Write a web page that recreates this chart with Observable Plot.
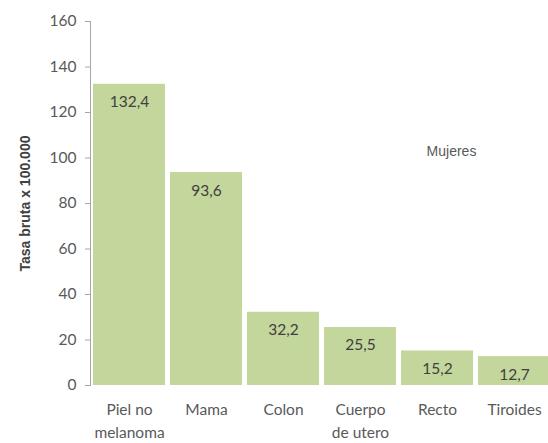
<!DOCTYPE html>
<html>
<head>
<meta charset="utf-8">
<script src="https://cdn.jsdelivr.net/npm/d3@7"></script>
<script src="https://cdn.jsdelivr.net/npm/@observablehq/plot@0.6"></script>
<style>
  html, body { margin: 0; padding: 0; background: #fff; }
  #chart svg { display: block; }
</style>
</head>
<body>
<div id="chart"></div>
<script>
const categories = ["Piel no\nmelanoma", "Mama", "Colon", "Cuerpo\nde utero", "Recto", "Tiroides"];
const values = [132.4, 93.6, 32.2, 25.5, 15.2, 12.7];
const valueLabels = ["132,4", "93,6", "32,2", "25,5", "15,2", "12,7"];
const yTicks = [0, 20, 40, 60, 80, 100, 120, 140, 160];
const yTitle = "Tasa bruta x 100.000";
const seriesName = "Mujeres";

const data = categories.map((c, i) => ({cat: c, value: values[i], label: valueLabels[i]}));

const font = "Lato, 'Open Sans', sans-serif";

const chart = Plot.plot({
  width: 548,
  height: 443,
  marginLeft: 90,
  marginRight: -4,
  marginTop: 21,
  marginBottom: 58,
  style: {fontFamily: font, background: "#fff"},
  x: {domain: categories, paddingInner: 0.065, paddingOuter: 0.0325, label: null},
  y: {domain: [0, 160], label: null},
  marks: [
    Plot.barY(data, {x: "cat", y: "value", fill: "#C3D69B"}),
    Plot.text(data, {x: "cat", y: "value", text: "label", dy: 18, fill: "#404040", fontSize: 15.5, fontFamily: font}),
    Plot.axisY({ticks: yTicks, tickSize: 5, tickPadding: 9, stroke: "#A6A6A6", fill: "#595959", fontSize: 15.5, label: null, tickFormat: d => d}),
    Plot.frame({anchor: "left", stroke: "#A6A6A6"}),
    Plot.axisX({tickSize: 0, tickPadding: 13, fill: "#595959", fontSize: 15.5, label: null, lineHeight: 1.5}),
    Plot.text([yTitle], {frameAnchor: "left", textAnchor: "middle", rotate: -90, dx: -65, fontWeight: "bold", fontSize: 14, fill: "#404040", fontFamily: "'Liberation Sans', Arial, sans-serif"}),
    Plot.text([seriesName], {x: () => categories[4], y: () => 103, dx: 14, fontSize: 14, fill: "#595959", fontFamily: "'Liberation Sans', Arial, sans-serif"})
  ]
});

document.getElementById("chart").appendChild(chart);
</script>
</body>
</html>
